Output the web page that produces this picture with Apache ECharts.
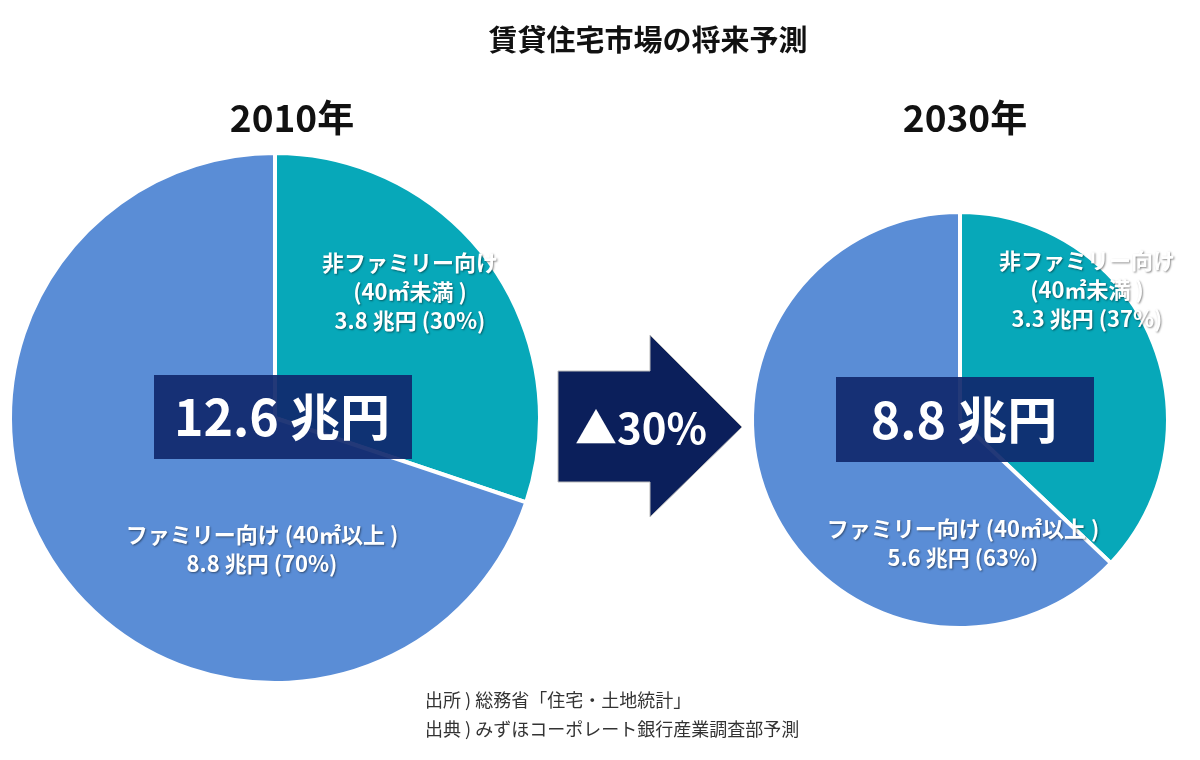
<!DOCTYPE html>
<html><head><meta charset="utf-8">
<script src="https://cdn.jsdelivr.net/npm/echarts@6/dist/echarts.min.js"></script>
<style>html,body{margin:0;padding:0;background:#fff}#c{width:1200px;height:760px}</style>
</head><body><div id="c"></div>
<script>
const title = '賃貸住宅市場の将来予測';
const years = ['2010年', '2030年'];
const categories = ['非ファミリー向け\n(40㎡未満 )', 'ファミリー向け (40㎡以上 )'];
const values2010 = [3.8, 8.8];
const values2030 = [3.3, 5.6];
const pct2010 = [30, 70];
const pct2030 = [37, 63];
const totals = ['12.6 兆円', '8.8 兆円'];
const changeLabel = '▲30%';
const sources = ['出所 ) 総務省「住宅・土地統計」', '出典 ) みずほコーポレート銀行産業調査部予測'];

const FONT = '"Noto Sans CJK JP", "Noto Sans", sans-serif';
const colors = ['#07A8B9', '#5A8DD6'];

function mkData(vals, pcts) {
  return vals.map((v, i) => ({
    name: categories[i], value: v, pct: pcts[i],
    itemStyle: { color: colors[i] }
  }));
}

function pieSeries(center, radius, vals, pcts, labelPos) {
  return {
    type: 'pie', center: center, radius: radius, startAngle: 90, clockwise: true,
    silent: true, animation: false,
    itemStyle: { borderColor: '#fff', borderWidth: 4 },
    data: mkData(vals, pcts),
    label: {
      show: true, position: 'inside', color: '#fff', fontFamily: FONT,
      fontWeight: 'bold', fontSize: 22, lineHeight: 29, align: 'center',
      textShadowColor: 'rgba(0,0,0,0.45)', textShadowBlur: 2, textShadowOffsetX: 1, textShadowOffsetY: 1,
      formatter: p => p.name + '\n' + p.value.toFixed(1) + ' 兆円 (' + p.data.pct + '%)'
    },
    labelLine: { show: false },
    labelLayout: function (params) {
      const lp = labelPos[params.dataIndex];
      return { x: lp[0], y: lp[1], align: 'center', verticalAlign: 'middle' };
    }
  };
}

const chart = echarts.init(document.getElementById('c'), null, { renderer: 'canvas' });
chart.setOption({
  backgroundColor: '#fff',
  title: [
    { text: title, left: 643, top: 20, textAlign: 'center',
      textStyle: { fontFamily: FONT, fontWeight: 'bold', fontSize: 29, color: '#111' } },
    { text: years[0], left: 287, top: 94, textAlign: 'center',
      textStyle: { fontFamily: FONT, fontWeight: 'bold', fontSize: 37, color: '#111' } },
    { text: years[1], left: 960, top: 94, textAlign: 'center',
      textStyle: { fontFamily: FONT, fontWeight: 'bold', fontSize: 37, color: '#111' } }
  ],
  series: [
    pieSeries([275, 418], 265, values2010, pct2010, [[410, 292], [262, 549]]),
    pieSeries([960, 420], 208, values2030, pct2030, [[1087, 290], [963, 543]])
  ],
  graphic: [
    { type: 'rect', shape: { x: 154, y: 375, width: 258, height: 84 }, z: 10,
      style: { fill: 'rgba(16,40,108,0.92)' } },
    { type: 'text', x: 282, y: 417, z: 11,
      style: { text: totals[0], fill: '#fff', font: 'bold 50px ' + FONT, textAlign: 'center', textVerticalAlign: 'middle' } },
    { type: 'rect', shape: { x: 836, y: 377, width: 258, height: 85 }, z: 10,
      style: { fill: 'rgba(16,40,108,0.92)' } },
    { type: 'text', x: 964, y: 420, z: 11,
      style: { text: totals[1], fill: '#fff', font: 'bold 50px ' + FONT, textAlign: 'center', textVerticalAlign: 'middle' } },
    { type: 'polygon', z: 10,
      shape: { points: [[558, 371], [650, 371], [650, 335], [742, 427], [650, 517], [650, 482], [558, 482]] },
      style: { fill: '#0B1F5B', stroke: '#bbb', lineWidth: 1 } },
    { type: 'text', x: 641, y: 428, z: 11,
      style: { text: changeLabel, fill: '#fff', font: 'bold 42px ' + FONT, textAlign: 'center', textVerticalAlign: 'middle' } },
    { type: 'text', x: 425, y: 700, z: 11,
      style: { text: sources[0], fill: '#333', font: '18px ' + FONT, textVerticalAlign: 'middle' } },
    { type: 'text', x: 425, y: 729, z: 11,
      style: { text: sources[1], fill: '#333', font: '18px ' + FONT, textVerticalAlign: 'middle' } }
  ]
});
</script></body></html>
